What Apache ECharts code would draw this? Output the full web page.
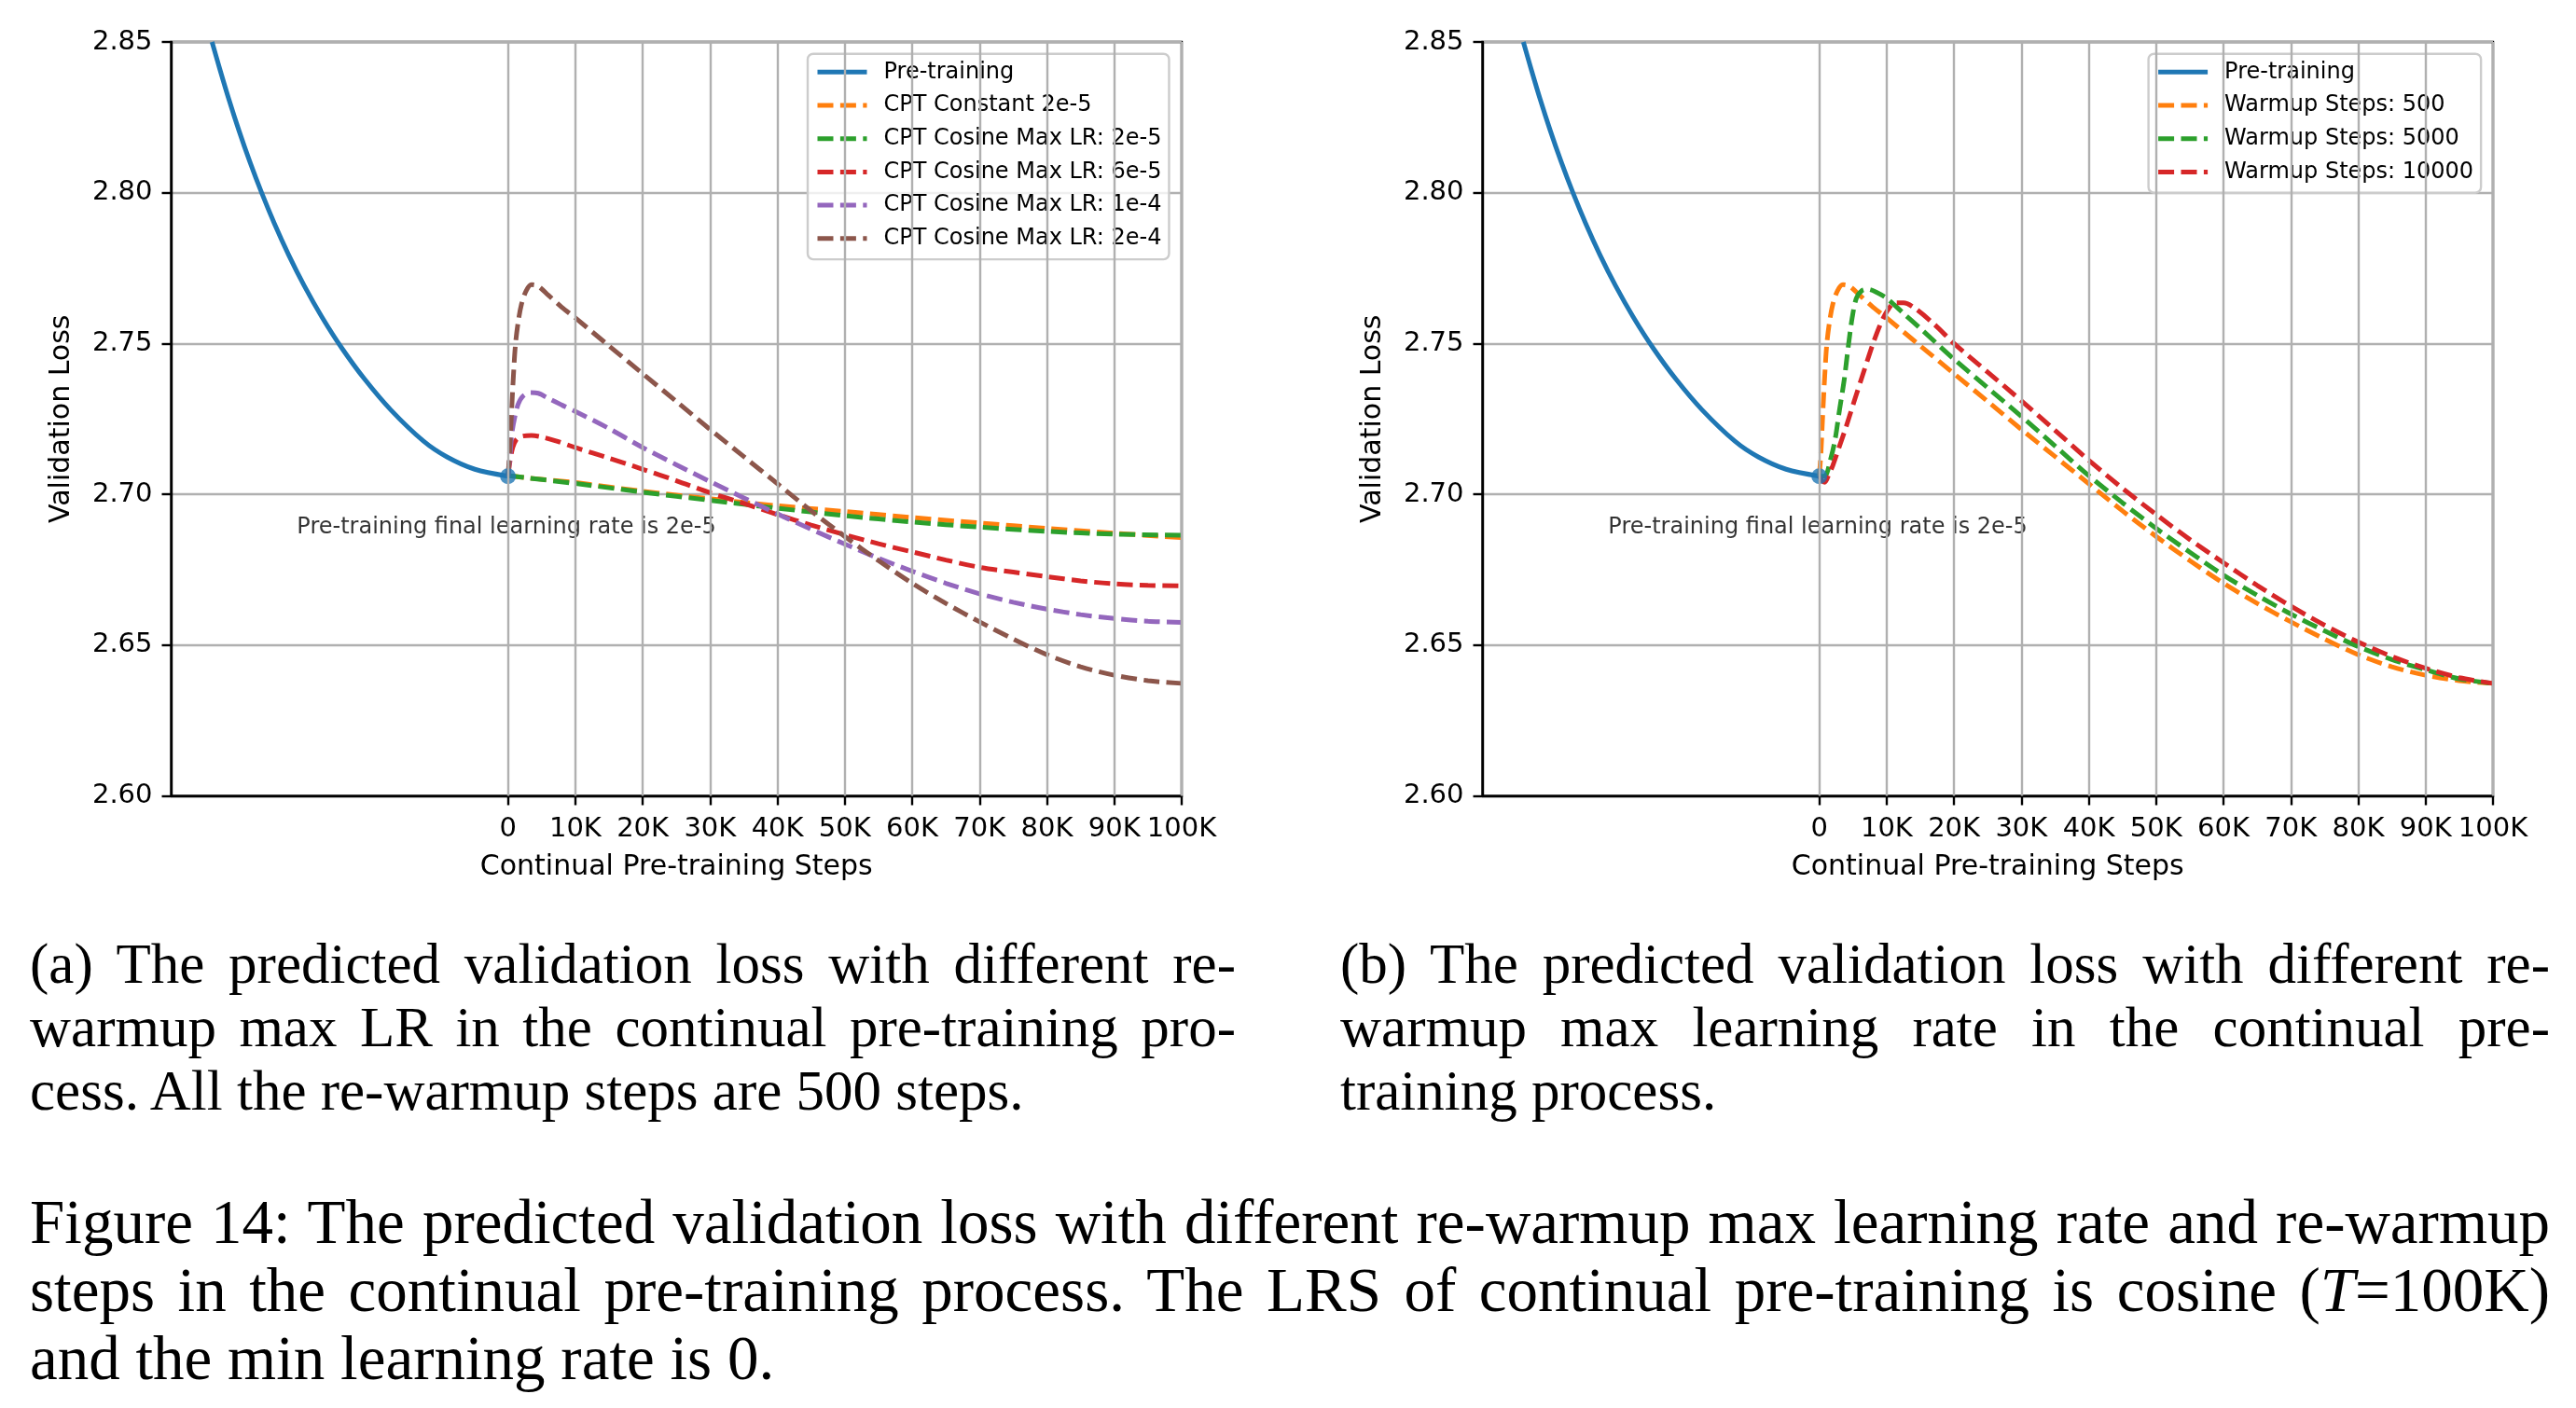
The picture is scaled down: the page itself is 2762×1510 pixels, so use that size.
<!DOCTYPE html>
<html>
<head>
<meta charset="utf-8">
<script src="https://cdn.jsdelivr.net/npm/echarts@6.0.0/dist/echarts.min.js"></script>
<style>
  html, body { margin: 0; padding: 0; background: #fff; }
  #chart { position: absolute; left: 0; top: 0; width: 2762px; height: 1510px; }
  .cap { position: absolute; font-family: "Liberation Serif", "Times New Roman", serif; color: #000; white-space: nowrap; }
  .j { text-align: justify; text-align-last: justify; }
  .l { text-align: left; }
</style>
</head>
<body>
<div id="chart"></div>
<div class="cap" id="capA" style="left:32px; top:1000px; width:1293px; font-size:61px; line-height:68px;">
  <div class="j">(a) The predicted validation loss with different re-</div>
  <div class="j">warmup max LR in the continual pre-training pro-</div>
  <div class="l">cess. All the re-warmup steps are 500 steps.</div>
</div>
<div class="cap" id="capB" style="left:1437px; top:1000px; width:1297px; font-size:61px; line-height:68px;">
  <div class="j">(b) The predicted validation loss with different re-</div>
  <div class="j">warmup max learning rate in the continual pre-</div>
  <div class="l">training process.</div>
</div>
<div class="cap" id="capFig" style="left:32px; top:1274px; width:2702px; font-size:67px; line-height:73px;">
  <div class="j">Figure 14: The predicted validation loss with different re-warmup max learning rate and re-warmup</div>
  <div class="j">steps in the continual pre-training process. The LRS of continual pre-training is cosine (<i>T</i>=100K)</div>
  <div class="l">and the min learning rate is 0.</div>
</div>
<script>
// ---------------- data ----------------
const xTicks = [0, 10000, 20000, 30000, 40000, 50000, 60000, 70000, 80000, 90000, 100000];
const xTickLabels = ['0', '10K', '20K', '30K', '40K', '50K', '60K', '70K', '80K', '90K', '100K'];
const yMin = 2.60, yMax = 2.85, yStep = 0.05;

// Pre-training curve (same in both panels)
const preSteps = [-43930, -42800, -41420, -39930, -38320, -36570, -34660, -32560, -30230, -27620, -24670, -21290, -17360, -12530, -9070, -4920, 0];
const preLoss  = [2.8500, 2.8412, 2.8309, 2.8206, 2.8103, 2.8000, 2.7897, 2.7794, 2.7691, 2.7588, 2.7485, 2.7382, 2.7279, 2.7176, 2.7124, 2.7083, 2.7060];
const preEndStep = 0, preEndLoss = 2.706;

// Panel (a)
const constSteps = [0, 3000, 10000, 20000, 30000, 40000, 50000, 60000, 70000, 80000, 90000, 100000];
const constLoss  = [2.7062, 2.7054, 2.7039, 2.7010, 2.6985, 2.6962, 2.6943, 2.6923, 2.6905, 2.6887, 2.6871, 2.6856];

const cos2e5Steps = [0, 3000, 10000, 20000, 30000, 40000, 50000, 60000, 70000, 80000, 90000, 100000];
const cos2e5Loss  = [2.7062, 2.7054, 2.7036, 2.7007, 2.6980, 2.6954, 2.6929, 2.6908, 2.6891, 2.6877, 2.6868, 2.6864];

const cos6e5Steps = [0, 300, 700, 1200, 2000, 3500, 5000, 7000, 10000, 15000, 20000, 25000, 30000, 35000, 40000, 45000, 50000, 55000, 60000, 65000, 70000, 75000, 80000, 85000, 90000, 95000, 100000];
const cos6e5Loss  = [2.7060, 2.7110, 2.7155, 2.7180, 2.7192, 2.7195, 2.7190, 2.7178, 2.7155, 2.7120, 2.7083, 2.7045, 2.7005, 2.6970, 2.6933, 2.6898, 2.6866, 2.6836, 2.6809, 2.6782, 2.6758, 2.6742, 2.6727, 2.6713, 2.6703, 2.6698, 2.6696];

const cos1e4Steps = [0, 300, 600, 1000, 1500, 2200, 3300, 4500, 6000, 8000, 10000, 15000, 20000, 25000, 30000, 35000, 40000, 45000, 50000, 55000, 60000, 65000, 70000, 75000, 80000, 85000, 90000, 95000, 100000];
const cos1e4Loss  = [2.7060, 2.7130, 2.7205, 2.7255, 2.7298, 2.7325, 2.7337, 2.7335, 2.7318, 2.7296, 2.7275, 2.7218, 2.7155, 2.7098, 2.7042, 2.6988, 2.6935, 2.6884, 2.6835, 2.6788, 2.6745, 2.6705, 2.6670, 2.6642, 2.6619, 2.6601, 2.6588, 2.6579, 2.6575];

const cos2e4Steps = [0, 250, 500, 800, 1100, 1500, 2000, 2700, 3500, 4500, 6000, 8000, 10000, 15000, 20000, 25000, 30000, 35000, 40000, 45000, 50000, 55000, 60000, 65000, 70000, 75000, 80000, 85000, 90000, 95000, 100000];
const cos2e4Loss  = [2.7060, 2.7140, 2.7260, 2.7390, 2.7495, 2.7570, 2.7630, 2.7675, 2.7695, 2.7690, 2.7660, 2.7620, 2.7585, 2.7492, 2.7400, 2.7308, 2.7215, 2.7125, 2.7035, 2.6945, 2.6860, 2.6780, 2.6705, 2.6638, 2.6577, 2.6520, 2.6468, 2.6428, 2.6400, 2.6382, 2.6373];

// Panel (b)
const wu500Steps = [0, 250, 500, 800, 1100, 1500, 2000, 2700, 3500, 4500, 6000, 8000, 10000, 15000, 20000, 25000, 30000, 35000, 40000, 45000, 50000, 55000, 60000, 65000, 70000, 75000, 80000, 85000, 90000, 95000, 100000];
const wu500Loss  = [2.7060, 2.7140, 2.7260, 2.7390, 2.7495, 2.7570, 2.7630, 2.7675, 2.7695, 2.7690, 2.7660, 2.7620, 2.7585, 2.7492, 2.7400, 2.7308, 2.7215, 2.7125, 2.7035, 2.6945, 2.6860, 2.6780, 2.6705, 2.6638, 2.6577, 2.6520, 2.6468, 2.6428, 2.6400, 2.6382, 2.6373];

const wu5000Steps = [0, 900, 1600, 2300, 3000, 3700, 4300, 4900, 5500, 6300, 7200, 8500, 10000, 12500, 15000, 20000, 25000, 30000, 35000, 40000, 45000, 50000, 55000, 60000, 65000, 70000, 75000, 80000, 85000, 90000, 95000, 100000];
const wu5000Loss  = [2.7060, 2.7062, 2.7110, 2.7176, 2.7280, 2.7380, 2.7490, 2.7588, 2.7650, 2.7675, 2.7680, 2.7670, 2.7650, 2.7600, 2.7550, 2.7448, 2.7353, 2.7258, 2.7160, 2.7062, 2.6972, 2.6887, 2.6808, 2.6732, 2.6665, 2.6603, 2.6547, 2.6495, 2.6452, 2.6418, 2.6388, 2.6373];

const wu10000Steps = [0, 400, 800, 1400, 2000, 3000, 4000, 5200, 6500, 7900, 9000, 10000, 11200, 12500, 14000, 17000, 20000, 25000, 30000, 35000, 40000, 45000, 50000, 55000, 60000, 65000, 70000, 75000, 80000, 85000, 90000, 95000, 100000];
const wu10000Loss  = [2.7060, 2.7045, 2.7040, 2.7065, 2.7095, 2.7160, 2.7225, 2.7310, 2.7400, 2.7495, 2.7560, 2.7605, 2.7635, 2.7635, 2.7620, 2.7565, 2.7500, 2.7405, 2.7310, 2.7212, 2.7113, 2.7020, 2.6933, 2.6850, 2.6773, 2.6698, 2.6629, 2.6566, 2.6510, 2.6462, 2.6423, 2.6392, 2.6373];

const annotationText = 'Pre-training final learning rate is 2e-5';
const annotationStep = -31400, annotationLoss = 2.6891;

const legendA = ['Pre-training', 'CPT Constant 2e-5', 'CPT Cosine Max LR: 2e-5', 'CPT Cosine Max LR: 6e-5', 'CPT Cosine Max LR: 1e-4', 'CPT Cosine Max LR: 2e-4'];
const legendB = ['Pre-training', 'Warmup Steps: 500', 'Warmup Steps: 5000', 'Warmup Steps: 10000'];

// ---------------- styling ----------------
const FONT = 'DejaVu Sans';
const C = { blue: '#1f77b4', orange: '#ff7f0e', green: '#2ca02c', red: '#d62728', purple: '#9467bd', brown: '#8c564b' };
const LW = 5;
const DASH = [17, 7.4];
const GRID_COLOR = '#b0b0b0';

function zip(xs, ys) { return xs.map((x, i) => [x, ys[i]]); }

function xAxisFor(gi) {
  return {
    type: 'value', gridIndex: gi, min: -50000, max: 100000, interval: 10000,
    name: 'Continual Pre-training Steps', nameLocation: 'middle', nameGap: 62,
    nameTextStyle: { fontFamily: FONT, fontSize: 30, color: '#000' },
    axisLine: { show: true, onZero: false, lineStyle: { color: '#000', width: 2.4 } },
    axisTick: { show: true, length: 10, customValues: xTicks, lineStyle: { color: '#000', width: 2.4 } },
    axisLabel: {
      show: true, customValues: xTicks, margin: 21, fontFamily: FONT, fontSize: 29, color: '#000',
      formatter: v => { const i = xTicks.indexOf(v); return i >= 0 ? xTickLabels[i] : ''; }
    },
    splitLine: { show: false }
  };
}
function yAxisFor(gi) {
  return {
    type: 'value', gridIndex: gi, min: yMin, max: yMax, interval: yStep,
    name: 'Validation Loss', nameLocation: 'middle', nameGap: 102,
    nameTextStyle: { fontFamily: FONT, fontSize: 30, color: '#000' },
    axisLine: { show: true, onZero: false, lineStyle: { color: '#000', width: 2.4 } },
    axisTick: { show: true, length: 10, lineStyle: { color: '#000', width: 2.4 } },
    axisLabel: { margin: 20, fontFamily: FONT, fontSize: 29, color: '#000', formatter: v => v.toFixed(2) },
    splitLine: { show: true, lineStyle: { color: GRID_COLOR, width: 2.4 } }
  };
}
function gridLinesSeries(gi) {
  return {
    type: 'line', xAxisIndex: gi, yAxisIndex: gi, z: 1, silent: true,
    data: [[xTicks[0], yMin]], symbol: 'none', lineStyle: { opacity: 0 },
    markLine: {
      silent: true, symbol: ['none', 'none'], animation: false,
      label: { show: false },
      lineStyle: { color: GRID_COLOR, width: 2.4, type: 'solid' },
      data: xTicks.map(v => ({ xAxis: v }))
    }
  };
}
function lineSeries(gi, name, xs, ys, color, dashed) {
  return {
    type: 'line', name, xAxisIndex: gi, yAxisIndex: gi, z: 2,
    data: zip(xs, ys), symbol: 'none', showSymbol: false, smooth: 0.3,
    itemStyle: { color },
    lineStyle: { color, width: LW, type: dashed ? DASH : 'solid', cap: 'butt' },
    emphasis: { disabled: true }
  };
}
function dotSeries(gi) {
  return {
    type: 'scatter', name: 'pre-end', xAxisIndex: gi, yAxisIndex: gi, z: 2,
    data: [[preEndStep, preEndLoss]], symbolSize: 17, itemStyle: { color: C.blue },
    emphasis: { disabled: true }
  };
}
function annotationSeries(gi) {
  return {
    type: 'scatter', name: 'annotation', xAxisIndex: gi, yAxisIndex: gi, z: 3,
    data: [[annotationStep, annotationLoss]], symbolSize: 1,
    itemStyle: { color: 'rgba(0,0,0,0)' },
    label: { show: true, position: 'right', distance: 0, formatter: annotationText, fontFamily: FONT, fontSize: 24, color: '#000' },
    emphasis: { disabled: true }
  };
}
function legendFor(left, names) {
  return {
    left, top: 57.7, orient: 'vertical', data: names, selectedMode: false,
    padding: [7.6, 8, 10.3, 8], itemWidth: 53, itemHeight: 24, itemGap: 11.7,
    backgroundColor: 'rgba(255,255,255,0.8)', borderColor: '#cccccc', borderWidth: 2.4, borderRadius: 6,
    itemStyle: { color: 'rgba(0,0,0,0)', borderWidth: 0, opacity: 0 },
    lineStyle: { width: LW },
    textStyle: { fontFamily: FONT, fontSize: 24, color: '#000', lineHeight: 24, padding: [0, 0, 0, 13] }
  };
}

const chart = echarts.init(document.getElementById('chart'), null, { renderer: 'canvas' });
const option = {
  animation: false,
  backgroundColor: '#fff',
  grid: [
    { left: 183.5, top: 45, width: 1083.5, height: 808.5, show: true, borderColor: '#000', borderWidth: 2.4, backgroundColor: '#fff' },
    { left: 1589.5, top: 45, width: 1083.5, height: 808.5, show: true, borderColor: '#000', borderWidth: 2.4, backgroundColor: '#fff' }
  ],
  xAxis: [xAxisFor(0), xAxisFor(1)],
  yAxis: [yAxisFor(0), yAxisFor(1)],
  legend: [legendFor(866, legendA), legendFor(2303.6, legendB)],
  series: [
    gridLinesSeries(0),
    lineSeries(0, 'Pre-training', preSteps, preLoss, C.blue, false),
    dotSeries(0),
    lineSeries(0, 'CPT Constant 2e-5', constSteps, constLoss, C.orange, true),
    lineSeries(0, 'CPT Cosine Max LR: 2e-5', cos2e5Steps, cos2e5Loss, C.green, true),
    lineSeries(0, 'CPT Cosine Max LR: 6e-5', cos6e5Steps, cos6e5Loss, C.red, true),
    lineSeries(0, 'CPT Cosine Max LR: 1e-4', cos1e4Steps, cos1e4Loss, C.purple, true),
    lineSeries(0, 'CPT Cosine Max LR: 2e-4', cos2e4Steps, cos2e4Loss, C.brown, true),
    annotationSeries(0),

    gridLinesSeries(1),
    lineSeries(1, 'Pre-training', preSteps, preLoss, C.blue, false),
    dotSeries(1),
    lineSeries(1, 'Warmup Steps: 500', wu500Steps, wu500Loss, C.orange, true),
    lineSeries(1, 'Warmup Steps: 5000', wu5000Steps, wu5000Loss, C.green, true),
    lineSeries(1, 'Warmup Steps: 10000', wu10000Steps, wu10000Loss, C.red, true),
    annotationSeries(1)
  ]
};
chart.setOption(option);
</script>
</body>
</html>
